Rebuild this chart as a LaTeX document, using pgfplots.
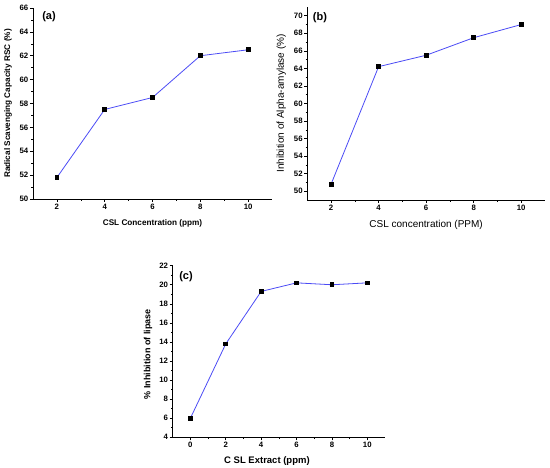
\documentclass[border=0pt]{standalone}
\usepackage{pgfplots}
\pgfplotsset{compat=1.18}
\usepackage{fontspec}
\setmainfont{Liberation Sans}
\definecolor{lineblue}{RGB}{75,75,245}
\pgfplotsset{
  panel/.style={
    scale only axis,
    axis x line=bottom, axis y line=left,
    axis line style={-, line width=0.7pt, black},
    tick align=outside,
    major tick length=3pt, minor tick length=1.8pt,
    every tick/.style={black, line width=0.6pt},
    minor x tick num=1, minor y tick num=1,
    /pgf/number format/assume math mode=true,
    tick label style={font=\bfseries\fontsize{7.8}{8}\selectfont},
    xticklabel style={inner sep=1.5pt},
    yticklabel style={inner sep=1.5pt},
    clip=false,
  },
  dataline/.style={lineblue, line width=0.8pt, mark=square*, mark size=1.9pt,
    mark options={black, fill=black}},
}
\begin{document}
\begin{tikzpicture}
\useasboundingbox (0,0) rectangle (550pt,468pt);
% (a)
\begin{axis}[panel,
  at={(33pt,269pt)}, anchor=south west,
  width=239pt, height=191pt,
  xmin=1, xmax=11, ymin=50, ymax=66,
  xtick={2,4,6,8,10}, ytick={50,52,...,66},
  xlabel={CSL Concentration (ppm)},
  ylabel={Radical Scavenging Capacity RSC (\%)},
  xlabel style={at={(axis description cs:0.5,0)}, anchor=center, yshift=-24pt, font=\bfseries\fontsize{8.2}{9}\selectfont},
  ylabel style={at={(axis description cs:0,0.5)}, anchor=center, yshift=25pt, font=\bfseries\fontsize{8.2}{9}\selectfont},
]
\addplot[dataline] coordinates {(2,51.8) (4,57.5) (6,58.5) (8,62.0) (10,62.5)};
\node[anchor=west, inner sep=0pt, font=\bfseries\fontsize{11}{12}\selectfont] at (rel axis cs:0.038,0.953) {(a)};
\end{axis}
% (b)
\begin{axis}[panel,
  at={(307.3pt,268pt)}, anchor=south west,
  width=237.7pt, height=193pt,
  xmin=1, xmax=11, ymin=49, ymax=71,
  xtick={2,4,6,8,10}, ytick={50,52,...,70},
  xlabel={CSL concentration (PPM)},
  ylabel={Inhibition of Alpha-amylase (\%)},
  xlabel style={at={(axis description cs:0.5,0)}, anchor=center, yshift=-25pt, font=\fontsize{10}{11}\selectfont},
  ylabel style={at={(axis description cs:0,0.5)}, anchor=center, yshift=26pt, font=\fontsize{10}{11}\selectfont},
]
\addplot[dataline] coordinates {(2,50.8) (4,64.2) (6,65.5) (8,67.5) (10,69.0)};
\node[anchor=west, inner sep=0pt, font=\bfseries\fontsize{11}{12}\selectfont] at (rel axis cs:0.023,0.947) {(b)};
\end{axis}
% (c)
\begin{axis}[panel,
  at={(172.7pt,30.7pt)}, anchor=south west,
  width=212.3pt, height=171.6pt,
  xmin=-1, xmax=11, ymin=4, ymax=22,
  xtick={0,2,4,6,8,10}, ytick={4,6,...,22},
  xlabel={C SL Extract (ppm)},
  ylabel={\% Inhibition of lipase},
  xlabel style={at={(axis description cs:0.444,0)}, anchor=center, yshift=-23.4pt, font=\bfseries\fontsize{9.5}{10}\selectfont},
  ylabel style={at={(axis description cs:0,0.485)}, anchor=center, yshift=24.7pt, font=\bfseries\fontsize{9}{10}\selectfont},
]
\addplot[dataline] coordinates {(0,6.0) (2,13.8) (4,19.3) (6,20.2) (8,20.0) (10,20.2)};
\node[anchor=west, inner sep=0pt, font=\bfseries\fontsize{11}{12}\selectfont] at (rel axis cs:0.03,0.936) {(c)};
\end{axis}
\end{tikzpicture}
\end{document}
